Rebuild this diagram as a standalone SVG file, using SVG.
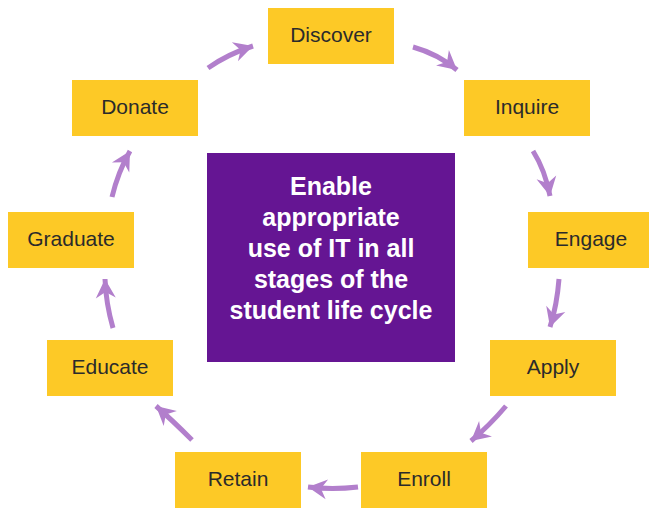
<svg xmlns="http://www.w3.org/2000/svg" width="649" height="508" viewBox="0 0 649 508">
<style>
.box{fill:#FDC926}
.lbl{font-family:"Liberation Sans",Arial,sans-serif;font-size:21px;fill:#2b2b2b;text-anchor:middle}
.ctr{font-family:"Liberation Sans",Arial,sans-serif;font-size:25px;font-weight:bold;fill:#ffffff;text-anchor:middle}
.arr{fill:none;stroke:#B27FCC;stroke-width:5;marker-end:url(#ah)}
</style>
<defs>
<marker id="ah" markerUnits="userSpaceOnUse" viewBox="-20 -11 22 22" refX="0" refY="0" markerWidth="22" markerHeight="22" orient="auto">
<path d="M0,0 L-19,-10 L-13,0 L-19,10 Z" fill="#B27FCC"/>
</marker>
</defs>
<rect width="649" height="508" fill="#ffffff"/>
<g id="connectors">
<path class="arr" d="M208,68 Q228,54 253,46"/>
<path class="arr" d="M413,47 Q438,54 457,70"/>
<path class="arr" d="M533,151 Q545,170 550,196"/>
<path class="arr" d="M559,279 Q557,305 550,327"/>
<path class="arr" d="M506,406 Q490,425 471,441"/>
<path class="arr" d="M358,487 Q332,490 308,487"/>
<path class="arr" d="M192,440 Q172,420 156,406"/>
<path class="arr" d="M113,328 Q106,304 105,279"/>
<path class="arr" d="M112,197 Q118,172 130,151"/>
</g>
<g id="center"><rect x="207" y="153" width="248" height="209" fill="#651593"/>
<text class="ctr" x="331" y="195">Enable</text>
<text class="ctr" x="331" y="226">appropriate</text>
<text class="ctr" x="331" y="257">use of IT in all</text>
<text class="ctr" x="331" y="288">stages of the</text>
<text class="ctr" x="331" y="319">student life cycle</text></g>
<g id="discover"><rect class="box" x="268" y="8" width="126" height="56"/><text class="lbl" x="331" y="42">Discover</text></g>
<g id="inquire"><rect class="box" x="464" y="80" width="126" height="56"/><text class="lbl" x="527" y="114">Inquire</text></g>
<g id="engage"><rect class="box" x="528" y="212" width="126" height="56"/><text class="lbl" x="591" y="246">Engage</text></g>
<g id="apply"><rect class="box" x="490" y="340" width="126" height="56"/><text class="lbl" x="553" y="374">Apply</text></g>
<g id="enroll"><rect class="box" x="361" y="452" width="126" height="56"/><text class="lbl" x="424" y="486">Enroll</text></g>
<g id="retain"><rect class="box" x="175" y="452" width="126" height="56"/><text class="lbl" x="238" y="486">Retain</text></g>
<g id="educate"><rect class="box" x="47" y="340" width="126" height="56"/><text class="lbl" x="110" y="374">Educate</text></g>
<g id="graduate"><rect class="box" x="8" y="212" width="126" height="56"/><text class="lbl" x="71" y="246">Graduate</text></g>
<g id="donate"><rect class="box" x="72" y="80" width="126" height="56"/><text class="lbl" x="135" y="114">Donate</text></g>
</svg>
